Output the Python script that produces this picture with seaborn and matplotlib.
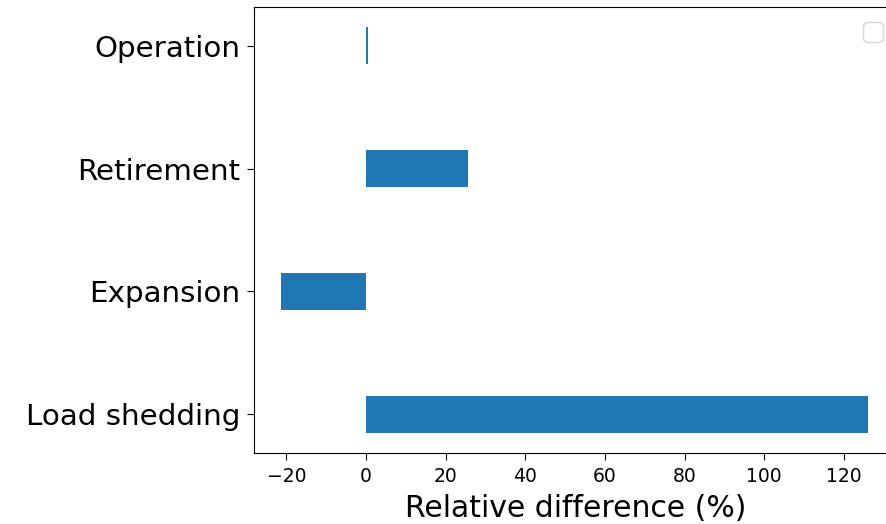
import matplotlib
matplotlib.use("Agg")
import matplotlib.pyplot as plt
import seaborn as sns
import pandas as pd

categories = ["Operation", "Retirement", "Expansion", "Load shedding"]
values = [0.5, 25.6, -21.2, 126.1]

df = pd.DataFrame({"category": categories, "value": values})

fig = plt.figure(figsize=(8.87, 5.24), dpi=100)
ax = fig.add_axes([254 / 887, 71 / 524, 1.0116 - 254 / 887, (453 - 7) / 524])

sns.barplot(data=df, x="value", y="category", orient="h", width=0.3,
            color="#1f77b4", saturation=1, linewidth=0, ax=ax)

ax.set_xlim(-28.1, 133.4)
ax.set_ylim(3.315, -0.315)
ax.set_ylabel("")
ax.set_xlabel("Relative difference (%)", fontsize=21.5, labelpad=6)
ax.tick_params(axis="y", labelsize=21.2, length=5, pad=5)
ax.tick_params(axis="x", labelsize=13.5, length=5, pad=5)
for s in ax.spines.values():
    s.set_visible(True)
ax.spines["right"].set_visible(False)
ax.legend(handles=[], labels=[], loc="upper right",
          bbox_to_anchor=(883 / 887, (524 - 22) / 524),
          bbox_transform=fig.transFigure, borderaxespad=0, fontsize=18)

fig.savefig("out.png", dpi=100)
